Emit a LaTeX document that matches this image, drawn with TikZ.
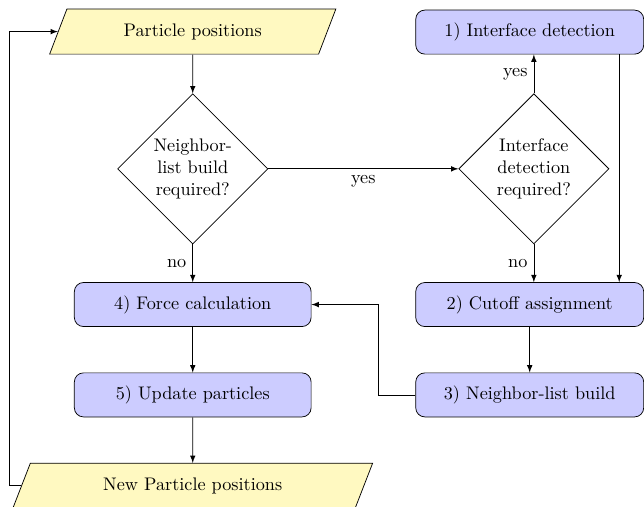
\documentclass[tikz,border=0pt]{standalone}
\usepackage{amsmath}
\usepackage{tikz}
\usetikzlibrary{shapes,arrows}
\usetikzlibrary{positioning}
\definecolor{myyellow}{RGB}{255,249,193}

\begin{document}
\begin{tikzpicture}[>=latex, auto,
node distance= 0.8 cm,
process/.style={
  rectangle,
  rounded corners=5pt,
  draw,
  fill=blue!20,
  minimum width=4.57cm,
  minimum height=0.85cm,
  text centered},
decision/.style={
  diamond,
  aspect=1,
  draw,
  inner sep=0pt,
  text width=1.6cm,
  minimum width=2.9cm,
  minimum height=2.9cm,
  text centered},
io/.style={
  trapezium,
  trapezium left angle=70,
  trapezium right angle=110,
  trapezium stretches=true,
  draw,
  fill=myyellow,
  minimum height=0.87cm,
  text centered}
]
\useasboundingbox (0,0) rectangle (12.43,-9.77);
\node[io, minimum width=5.56cm] (start) at (3.72,-0.61) {Particle positions};
\node[decision, below=0.75cm of start] (nbcheck) {Neighbor-\\list build\\required?};
\node[process, below=0.73cm of nbcheck] (force) {4) Force calculation};
\node[process, below=0.88cm of force] (update) {5) Update particles};
\node[io, minimum width=6.95cm, below=0.88cm of update] (newpos) {New Particle positions};
\node[decision, right=3.67cm of nbcheck] (ifcheck) {Interface\\detection\\required?};
\node[process, minimum width=4.4cm, above=0.75cm of ifcheck, xshift=-0.08cm] (ifdetect) {1) Interface detection};
\node[process, minimum width=4.4cm, below=0.73cm of ifcheck, xshift=-0.08cm] (cutoff) {2) Cutoff assignment};
\node[process, minimum width=4.4cm, below=0.88cm of cutoff] (nlist) {3) Neighbor-list build};
\draw [->] (start) -- (nbcheck);
\draw [->] (nbcheck) -- node [below] {yes} (ifcheck);
\draw [->] (ifcheck) -- node [left] {yes} (ifcheck.north |- ifdetect.south);
\draw [->] (ifcheck) -- node [left] {no} (ifcheck.south |- cutoff.north);
\draw [->] (nbcheck) -- node [left] {no} (force);
\draw [->] ([xshift=-0.48cm]ifdetect.south east) -- ([xshift=-0.48cm]cutoff.north east);
\draw [->] (cutoff) -- (nlist);
\draw [->] (nlist.west) -- ++(-0.72,0) |- (force.east);
\draw [->] (force) -- (update);
\draw [->] (update) -- (newpos);
\draw [->] (newpos.west) -- ++(-0.22,0) |- (start.west);

\end{tikzpicture}
\end{document}
